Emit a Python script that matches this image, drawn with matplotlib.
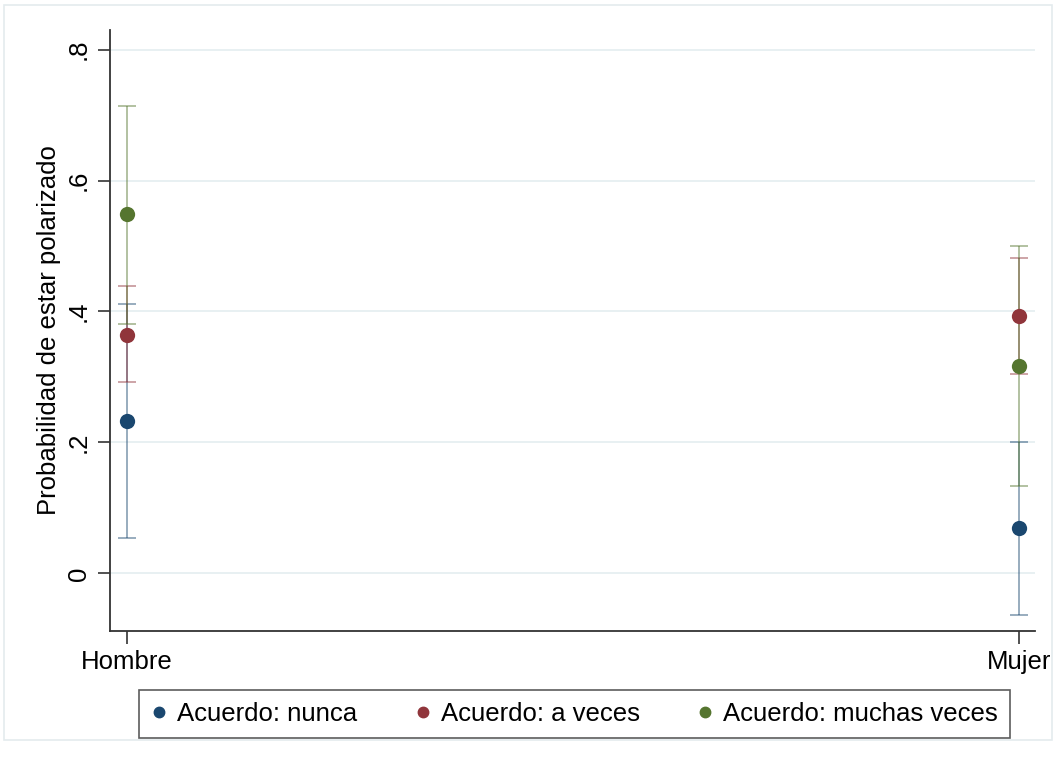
import matplotlib.pyplot as plt
from matplotlib.patches import Rectangle
from matplotlib.lines import Line2D

plt.rcParams['font.family'] = ['Liberation Sans', 'DejaVu Sans']

# Predicted probabilities with 95% CIs by sex and agreement level
groups = ["Hombre", "Mujer"]
series = ["Acuerdo: nunca", "Acuerdo: a veces", "Acuerdo: muchas veces"]
estimates = {
    "Acuerdo: nunca": [0.232, 0.070],
    "Acuerdo: a veces": [0.364, 0.393],
    "Acuerdo: muchas veces": [0.549, 0.317],
}
ci_low = {
    "Acuerdo: nunca": [0.054, -0.064],
    "Acuerdo: a veces": [0.292, 0.305],
    "Acuerdo: muchas veces": [0.381, 0.133],
}
ci_high = {
    "Acuerdo: nunca": [0.412, 0.201],
    "Acuerdo: a veces": [0.439, 0.481],
    "Acuerdo: muchas veces": [0.714, 0.500],
}
yticks = [0, 0.2, 0.4, 0.6, 0.8]
ytick_labels = ["0", ".2", ".4", ".6", ".8"]
colors = ["#1a476f", "#90353b", "#55752f"]

FS = 18.5

fig = plt.figure(figsize=(10.56, 7.69), dpi=100)
fig.patch.set_facecolor("white")
# light outer frame
fig.patches.append(Rectangle((0.004, 0.038), 0.992, 0.955, transform=fig.transFigure,
                             fill=False, edgecolor="#e4ebee", linewidth=1.2))

ax = fig.add_axes([0.1042, 0.1795, 0.8758, 0.7815])
x = list(range(len(groups)))

for name, col in zip(series, colors):
    est = estimates[name]
    lo = [e - l for e, l in zip(est, ci_low[name])]
    hi = [h - e for e, h in zip(est, ci_high[name])]
    ax.errorbar(x, est, yerr=[lo, hi], fmt="none", ecolor=col, alpha=0.45,
                elinewidth=1.4, capsize=6.5, capthick=1.4, zorder=2)
for name, col in zip(series, colors):
    ax.plot(x, estimates[name], "o", color=col, markersize=11, zorder=3,
            markeredgewidth=0)

ax.set_xlim(-0.019, 1.018)
ax.set_ylim(-0.088, 0.83)
ax.set_yticks(yticks)
ax.set_yticklabels(ytick_labels, rotation=90, va="center")
ax.set_xticks(x)
ax.set_xticklabels(groups)
ax.grid(axis="y", color="#e6eff1", linewidth=1.3)
ax.set_axisbelow(True)
for s in ["top", "right"]:
    ax.spines[s].set_visible(False)
for s in ["left", "bottom"]:
    ax.spines[s].set_color("#333333")
    ax.spines[s].set_linewidth(1.3)
ax.tick_params(axis="both", length=9, width=1.2, color="#333333",
               labelsize=FS, pad=5)
ax.set_ylabel("Probabilidad de estar polarizado", fontsize=FS, labelpad=4)

handles = [Line2D([], [], marker="o", linestyle="none", color=c, markersize=7.5)
           for c in colors]
leg = fig.legend(handles, series, loc="center", bbox_to_anchor=(0.5436, 0.0715),
                 ncol=3, frameon=True, fancybox=False, fontsize=FS,
                 handletextpad=0.35, columnspacing=2.2, handlelength=0.7,
                 borderpad=0.45, edgecolor="#333333")
leg.get_frame().set_linewidth(1.2)

fig.savefig("out.png", dpi=100)
